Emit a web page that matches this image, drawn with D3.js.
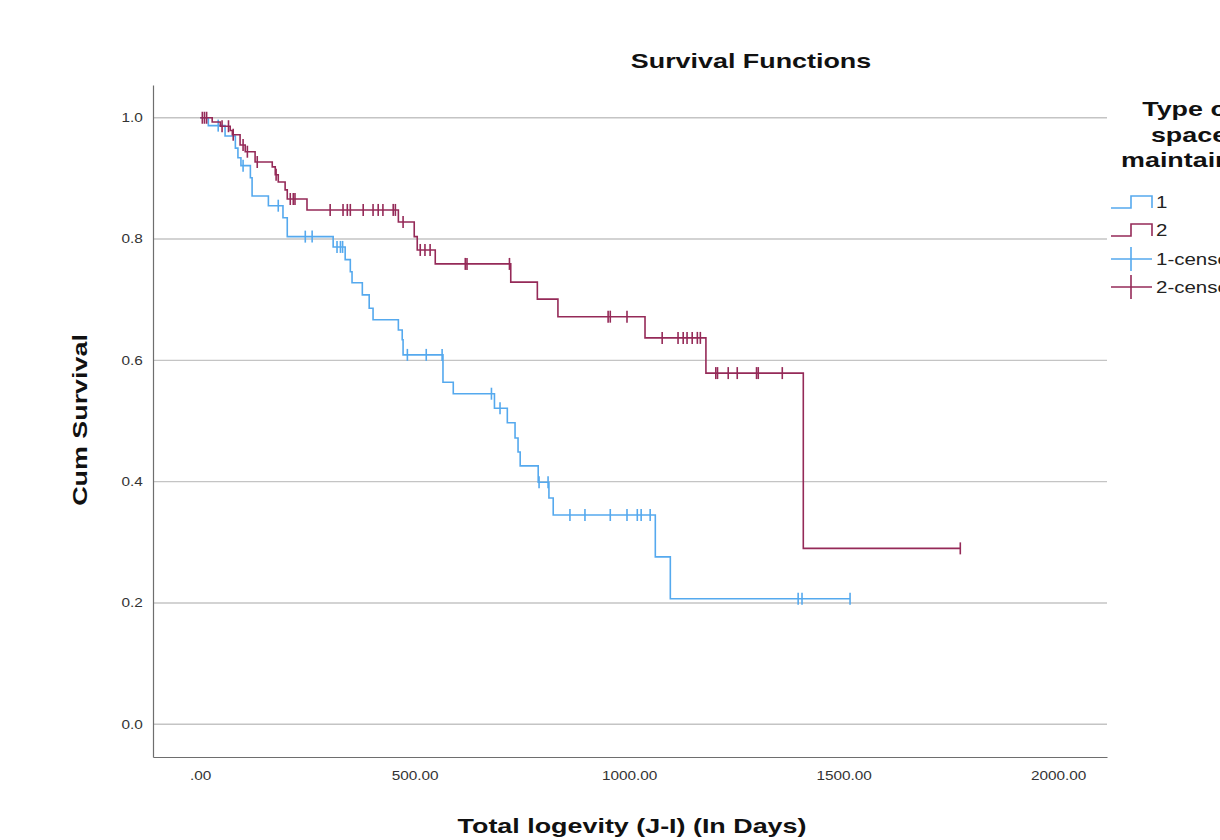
<!DOCTYPE html>
<html>
<head>
<meta charset="utf-8">
<script src="https://cdn.jsdelivr.net/npm/d3@7"></script>
<style>
  html, body { margin: 0; padding: 0; background: #fff; }
  svg { display: block; }
  text { font-family: "Liberation Sans", Arial, sans-serif; }
</style>
</head>
<body>
<svg id="chart" width="1220" height="840"></svg>
<script>
// ---- Data ----
const groups = ["1", "2"];
const xTicks = [0, 500, 1000, 1500, 2000];
const xTickLabels = [".00", "500.00", "1000.00", "1500.00", "2000.00"];
const yTicks = [0.0, 0.2, 0.4, 0.6, 0.8, 1.0];
const yTickLabels = ["0.0", "0.2", "0.4", "0.6", "0.8", "1.0"];

// Group 1: event times and survival after each step
const g1Times = [0, 19, 58, 82, 88, 95, 117, 121, 159, 193, 203, 310, 338, 350, 354, 378, 394, 403, 462, 471, 473, 566, 590, 686, 716, 734, 741, 746, 788, 813, 823, 1061, 1096];
const g1Surv  = [1.0, 0.987, 0.970, 0.950, 0.934, 0.921, 0.901, 0.871, 0.855, 0.835, 0.804, 0.787, 0.766, 0.746, 0.728, 0.708, 0.686, 0.667, 0.650, 0.634, 0.609, 0.564, 0.545, 0.521, 0.497, 0.472, 0.449, 0.426, 0.399, 0.373, 0.345, 0.276, 0.207];
const g1End = 1515;
const g1Censored = [42, 100, 182, 245, 261, 319, 327, 332, 483, 527, 564, 679, 699, 790, 811, 862, 897, 956, 995, 1019, 1028, 1049, 1394, 1403, 1515];

// Group 2
const g2Times = [0, 28, 47, 70, 75, 93, 105, 128, 168, 175, 182, 198, 203, 249, 462, 499, 506, 548, 724, 786, 834, 1037, 1179, 1406];
const g2Surv  = [1.0, 0.993, 0.986, 0.979, 0.972, 0.955, 0.944, 0.927, 0.919, 0.906, 0.894, 0.881, 0.866, 0.848, 0.828, 0.804, 0.782, 0.759, 0.729, 0.701, 0.672, 0.637, 0.579, 0.290];
const g2End = 1772;
const g2Censored = [5, 10, 15, 51, 66, 77, 100, 110, 133, 177, 210, 217, 221, 303, 333, 343, 350, 380, 403, 415, 426, 450, 455, 473, 513, 524, 536, 618, 622, 721, 951, 956, 995, 1077, 1114, 1126, 1135, 1147, 1159, 1166, 1202, 1206, 1231, 1252, 1297, 1301, 1357, 1772];

const colors = ["#55a9ee", "#952a58"];

// ---- Layout ----
const svg = d3.select("#chart");
const pLeft = 153, pRight = 1107, pTop = 85, pBottom = 757;
const stretch = 1.28; // reference text is horizontally wide
const x = d3.scaleLinear().domain([-110, 2114]).range([pLeft, pRight]);
const y = d3.scaleLinear().domain([-0.054, 1.054]).range([pBottom, pTop]);

function addText(tx, ty, str, size, weight, anchor, rot) {
  return svg.append("text")
    .attr("transform", `translate(${tx},${ty})` + (rot ? ` rotate(${rot})` : "") + ` scale(${stretch},1)`)
    .attr("text-anchor", anchor).attr("font-size", size).attr("font-weight", weight)
    .attr("fill", "#111").text(str);
}

// Gridlines
svg.append("g").selectAll("line").data(yTicks).join("line")
  .attr("x1", pLeft).attr("x2", pRight)
  .attr("y1", d => y(d)).attr("y2", d => y(d))
  .attr("stroke", "#c4c4c4").attr("stroke-width", 1.4);

// Axes (no tick marks)
const xAxis = d3.axisBottom(x).tickValues(xTicks).tickSize(0).tickPadding(14)
  .tickFormat((d, i) => xTickLabels[i]);
const gx = svg.append("g").attr("transform", `translate(0,${pBottom})`).call(xAxis);
gx.select(".domain").attr("stroke", "#6e6e6e").attr("stroke-width", 1.2);
gx.selectAll("text").attr("font-size", 12).attr("fill", "#333")
  .attr("transform", `scale(${stretch},1)`)
  .style("font-family", "'Liberation Sans', Arial, sans-serif");

const yAxis = d3.axisLeft(y).tickValues(yTicks).tickSize(0).tickPadding(8)
  .tickFormat((d, i) => yTickLabels[i]);
const gy = svg.append("g").attr("transform", `translate(${pLeft},0)`).call(yAxis);
gy.select(".domain").attr("stroke", "#6e6e6e").attr("stroke-width", 1.2);
gy.selectAll("text").attr("font-size", 12).attr("fill", "#333")
  .attr("transform", `scale(${stretch},1)`)
  .style("font-family", "'Liberation Sans', Arial, sans-serif");

// Curves
const line = d3.line().x(d => x(d[0])).y(d => y(d[1])).curve(d3.curveStepAfter);
function survAt(times, surv, t) {
  let s = surv[0];
  for (let i = 0; i < times.length; i++) { if (times[i] <= t) s = surv[i]; }
  return s;
}
const series = [
  {times: g1Times, surv: g1Surv, end: g1End, cens: g1Censored, color: colors[0]},
  {times: g2Times, surv: g2Surv, end: g2End, cens: g2Censored, color: colors[1]}
];
series.forEach(sr => {
  const pts = sr.times.map((t, i) => [t, sr.surv[i]]);
  pts.push([sr.end, sr.surv[sr.surv.length - 1]]);
  svg.append("path").datum(pts).attr("d", line)
    .attr("fill", "none").attr("stroke", sr.color).attr("stroke-width", 1.6);
  svg.append("g").selectAll("line").data(sr.cens).join("line")
    .attr("x1", d => x(d)).attr("x2", d => x(d))
    .attr("y1", d => y(survAt(sr.times, sr.surv, d)) - 6)
    .attr("y2", d => y(survAt(sr.times, sr.surv, d)) + 6)
    .attr("stroke", sr.color).attr("stroke-width", 1.6);
});

// Titles
addText(751, 68, "Survival Functions", 21, "bold", "middle");
addText(87, 420, "Cum Survival", 21, "bold", "middle", -90);
addText(632, 833, "Total logevity (J-I) (In Days)", 21, "bold", "middle");

// Legend
const legTitle = ["Type of", "space", "maintainer"];
legTitle.forEach((d, i) => addText(1189, 116 + i * 25.5, d, 21, "bold", "middle"));

const legItems = [
  {label: "1", color: colors[0], kind: "step", yc: 202},
  {label: "2", color: colors[1], kind: "step", yc: 230},
  {label: "1-censored", color: colors[0], kind: "cens", yc: 259},
  {label: "2-censored", color: colors[1], kind: "cens", yc: 287}
];
legItems.forEach(it => {
  if (it.kind === "step") {
    svg.append("path")
      .attr("d", `M1111,${it.yc + 6}H1131V${it.yc - 6}H1152V${it.yc + 6}`)
      .attr("fill", "none").attr("stroke", it.color).attr("stroke-width", 1.6);
  } else {
    svg.append("line").attr("x1", 1111).attr("x2", 1152).attr("y1", it.yc).attr("y2", it.yc)
      .attr("stroke", it.color).attr("stroke-width", 1.6);
    svg.append("line").attr("x1", 1131).attr("x2", 1131).attr("y1", it.yc - 12).attr("y2", it.yc + 12)
      .attr("stroke", it.color).attr("stroke-width", 1.6);
  }
  addText(1156, it.yc + 6, it.label, 16, "normal", "start").attr("fill", "#222");
});
</script>
</body>
</html>
